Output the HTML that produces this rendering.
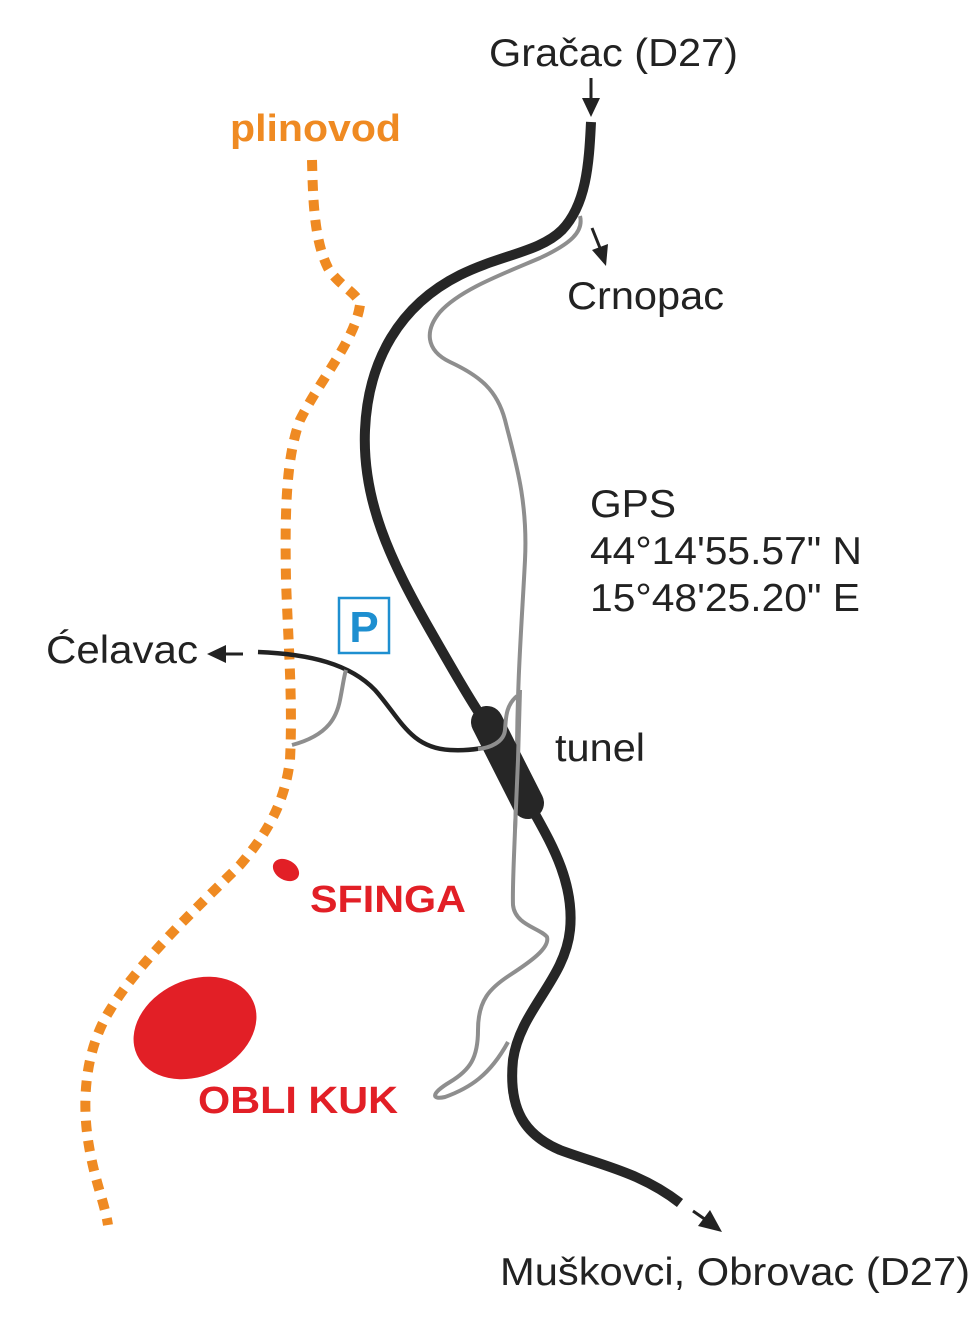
<!DOCTYPE html>
<html><head><meta charset="utf-8"><style>
html,body{margin:0;padding:0;background:#fff;}
svg{display:block;}
text{font-family:"Liberation Sans",sans-serif;}
</style></head><body>
<svg width="978" height="1330" viewBox="0 0 978 1330" xmlns="http://www.w3.org/2000/svg">
<!-- pipeline -->
<path d="M312,160 C313,200 314,240 328,268 C338,285 360,295 360,305 C355,340 320,380 300,420 C285,460 285,520 286,580 C288,640 293,700 290,760 C285,800 270,830 240,865 C200,905 140,960 110,1010 C85,1050 82,1100 88,1140 C94,1180 104,1200 108,1225" fill="none" stroke="#ef8a22" stroke-width="10" stroke-dasharray="11 9"/>
<!-- gray old road -->
<path d="M580,216 C584,232 570,244 540,258 C500,275 460,290 440,312 C425,330 425,350 450,362 C480,376 497,390 505,420 C515,460 528,500 525,560 C522,620 517,680 517,760 C516,830 512,880 513,905 C515,925 540,928 547,937 C550,948 530,962 510,975 C490,988 478,1000 478,1030 C478,1058 470,1070 450,1082 C430,1094 432,1100 445,1097 C470,1088 490,1075 508,1042" fill="none" stroke="#8e8e8e" stroke-width="4"/>
<!-- celavac road -->
<path d="M258,652 C310,654 350,664 375,690 C400,718 410,748 450,750 C470,751 490,748 500,742" fill="none" stroke="#222" stroke-width="4.5"/>
<path d="M292,745 C330,735 337,715 340,700 C343,685 344,676 346,670" fill="none" stroke="#8e8e8e" stroke-width="4"/>
<!-- main road -->
<path d="M591,122 C589,165 586,205 562,230 C540,252 500,255 460,275 C400,305 368,360 365,430 C362,500 390,560 430,630 C450,665 470,700 485,722 L530,805 C548,838 575,880 570,930 C565,980 520,1010 513,1060 C508,1110 525,1135 560,1150 C600,1165 640,1172 680,1203" fill="none" stroke="#262626" stroke-width="10"/>
<!-- tunnel -->
<line x1="487" y1="722" x2="528" y2="803" stroke="#262626" stroke-width="32" stroke-linecap="round"/>
<path d="M517,696 C505,706 506,720 505,730 C504,742 490,748 478,749" fill="none" stroke="#8e8e8e" stroke-width="4"/>
<path d="M520,690 L518,760 L515,830" fill="none" stroke="#8e8e8e" stroke-width="4"/>
<!-- arrows -->
<line x1="591" y1="78" x2="591" y2="100" stroke="#222" stroke-width="3"/>
<polygon points="582,98 600,98 591,117" fill="#222"/>
<line x1="592" y1="228" x2="600" y2="248" stroke="#222" stroke-width="3"/>
<polygon points="592,250 608,244 606,266" fill="#222"/>
<line x1="243" y1="654" x2="222" y2="654" stroke="#222" stroke-width="3"/>
<polygon points="207,654 226,645 226,663" fill="#222"/>
<line x1="693" y1="1211" x2="706" y2="1220" stroke="#222" stroke-width="3"/>
<polygon points="722,1232 698,1226 710,1210" fill="#222"/>
<!-- red shapes -->
<ellipse cx="286" cy="870" rx="14" ry="10" transform="rotate(30 286 870)" fill="#e21f26"/>
<ellipse cx="195" cy="1028" rx="64" ry="48" transform="rotate(-25 195 1028)" fill="#e21f26"/>
<!-- P sign -->
<rect x="339" y="598" width="50" height="55" fill="#fff" stroke="#1e8fd0" stroke-width="2.5"/>
<text x="364" y="642" text-anchor="middle" font-size="44" font-weight="bold" fill="#1e8fd0">P</text>
<!-- labels -->
<g fill="#222" font-size="39">
<text x="489" y="66" textLength="249" lengthAdjust="spacingAndGlyphs">Gračac (D27)</text>
<text x="567" y="309" textLength="157" lengthAdjust="spacingAndGlyphs">Crnopac</text>
<text x="590" y="517" textLength="86" lengthAdjust="spacingAndGlyphs">GPS</text>
<text x="590" y="564" textLength="272" lengthAdjust="spacingAndGlyphs">44°14'55.57" N</text>
<text x="590" y="611" textLength="270" lengthAdjust="spacingAndGlyphs">15°48'25.20" E</text>
<text x="46" y="663" textLength="152" lengthAdjust="spacingAndGlyphs">Ćelavac</text>
<text x="555" y="761" textLength="90" lengthAdjust="spacingAndGlyphs">tunel</text>
<text x="500" y="1285" textLength="470" lengthAdjust="spacingAndGlyphs">Muškovci, Obrovac (D27)</text>
</g>
<text x="230" y="141" font-size="38" font-weight="bold" fill="#ef8a22" textLength="171" lengthAdjust="spacingAndGlyphs">plinovod</text>
<text x="310" y="912" font-size="38" font-weight="bold" fill="#e21f26" textLength="156" lengthAdjust="spacingAndGlyphs">SFINGA</text>
<text x="198" y="1113" font-size="38" font-weight="bold" fill="#e21f26" textLength="200" lengthAdjust="spacingAndGlyphs">OBLI KUK</text>
</svg>
</body></html>
